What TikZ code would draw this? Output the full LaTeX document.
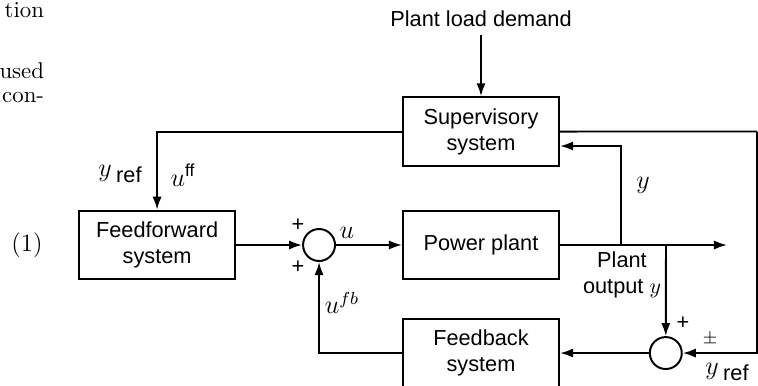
\documentclass[tikz,border=0pt]{standalone}
\usepackage{amsmath}
\usepackage{fontspec}
\setsansfont{Liberation Sans}
\usetikzlibrary{arrows.meta,positioning}
\tikzstyle{block}=[draw,line width=0.9pt,rectangle,align=center,font=\sffamily,
  minimum width=71.8pt,minimum height=31.5pt,inner sep=1pt]
\tikzstyle{sum}=[draw,line width=0.9pt,circle,inner sep=0pt,minimum size=14.7pt]
\tikzstyle{wire}=[line width=0.9pt]

\begin{document}
\begin{tikzpicture}[x=0.46pt,y=-0.46pt,>={Latex[length=6pt,width=4.2pt]},
    node distance=50pt,on grid]
  \tikzstyle{lbl}=[inner sep=0pt,font=\large]
  \tikzstyle{pagetxt}=[inner sep=0pt,anchor=base east,font=\fontsize{10.5}{13}\selectfont]
  \clip (0,0) rectangle (758,385);

  % blocks
  \node[block] (plant) at (481,245) {Power plant};
  \node[block, above=52.2pt of plant] (sup) {Supervisory\\system};
  \node[block, below=49.7pt of plant] (fb) {Feedback\\system};
  \node[block, left=149pt of plant] (ff) {Feedforward\\system};
  \node[sum, left=74.5pt of plant] (sum1) {};
  \node[sum, right=85pt of fb] (sum2) {};
  \node[font=\sffamily] (demand) at (481,19) {Plant load demand};

  \coordinate (jy) at (621,245);
  \coordinate (yin) at (621,146);
  \coordinate (jout) at (666,245);
  \coordinate (out) at (727,245);
  \coordinate (edge) at (757,131.5);

  % connectors
  \draw[wire,->] (demand) -- (sup.north);
  \draw[wire,->] (sup.west) -| (ff.north);
  \draw[wire,->] (ff.east) -- (sum1.west);
  \draw[wire,->] (sum1.east) -- (plant.west);
  \draw[wire,->] (plant.east) -- (out);
  \draw[wire,->] (jy) -- (yin) -- (yin -| sup.east);
  \draw[wire,->] (jout) -- (sum2.north);
  \draw[wire] (sup.east) -- (edge);
  \draw[wire,->] (edge) |- (sum2.east);
  \draw[wire,->] (sum2.west) -- (fb.east);
  \draw[wire,->] (fb.west) -| (sum1.south);

  % labels
  \node[lbl] at (120,174) {$y$\,\raisebox{-0.5ex}{\sffamily\normalsize ref}};
  \node[lbl] at (183,175) {$u^{\text{\sffamily ff}}$};
  \node[lbl,font=\sffamily] at (298,225) {+};
  \node[lbl,font=\sffamily] at (298,267) {+};
  \node[lbl] at (347,233) {$u$};
  \node[lbl] at (342,303) {$u^{fb}$};
  \node[lbl] at (643,185) {$y$};
  \node[lbl,align=center,font=\sffamily] at (622,275) {Plant\\output $y$};
  \node[lbl,font=\sffamily] at (683,323) {+};
  \node[lbl,font=\footnotesize] at (710,339) {$\pm$};
  \node[lbl] at (727,372) {$y$\,\raisebox{-0.5ex}{\sffamily\normalsize ref}};

  % page text beside the figure
  \node[pagetxt] at (44.5,18) {tion};
  \node[pagetxt] at (44.5,79) {used};
  \node[pagetxt] at (44.5,103) {con-};
  \node[pagetxt,font=\fontsize{11.5}{14}\selectfont] at (43,251) {(1)};
\end{tikzpicture}
\end{document}
